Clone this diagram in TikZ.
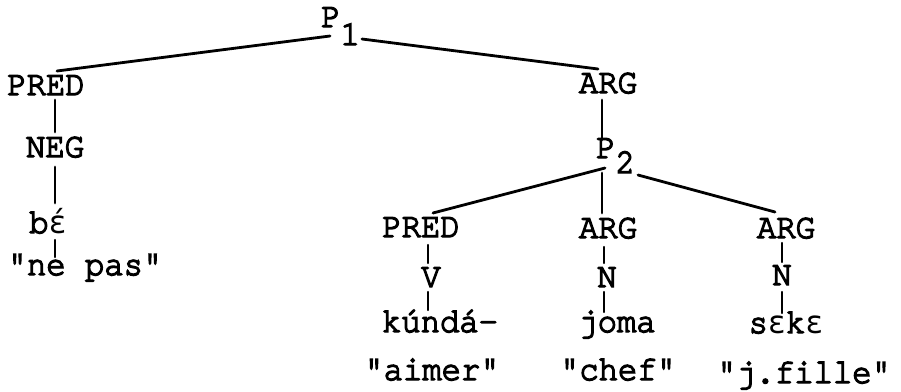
\documentclass[tikz,border=0pt]{standalone}
\usepackage{fontspec}
\newfontfamily\tw[FakeBold=4,FakeStretch=0.92,Ligatures=NoCommon]{TeX Gyre Cursor}
\newfontfamily\epsfont[Scale=0.9,FakeStretch=0.95]{DejaVu Sans Mono}
\newcommand{\eps}[1]{{\epsfont #1}}
\begin{document}
\begin{tikzpicture}[x=1bp,y=-1bp,
  lbl/.style={font=\tw\fontsize{35bp}{38bp}\selectfont, inner sep=0pt, anchor=base},
  lblw/.style={lbl, anchor=base west},
  br/.style={line width=2.8bp, line cap=round},
  sbr/.style={line width=2.3bp, line cap=round}]
\useasboundingbox (0,0) rectangle (901,391);
% nodes
\node[lblw] (p1) at (321,27) {P\raisebox{-18bp}{1}};
\node[lbl] (pred1) at (46,95) {PRED};
\node[lbl] (neg) at (55,157) {NEG};
\node[lbl] (be) at (48,233) {b\eps{ɛ́}};
\node[lbl] (nepas) at (85,275) {"ne pas"};
\node[lbl] (arg1) at (608,93) {ARG};
\node[lblw] (p2) at (596,158) {P\raisebox{-15bp}{2}};
\node[lbl] (pred2) at (421,237) {PRED};
\node[lbl] (arg2) at (608,238) {ARG};
\node[lbl] (arg3) at (786,238) {ARG};
\node[lbl] (v) at (431,287) {V};
\node[lbl] (n2) at (607,287) {N};
\node[lbl] (n3) at (782,285) {N};
\node[lbl] (kunda) at (440,332) {kúndá-};
\node[lbl] (joma) at (617,332) {joma};
\node[lbl] (seke) at (786,333) {s\eps{ɛ}k\eps{ɛ}};
\node[lbl] (aimer) at (432,380) {"aimer"};
\node[lbl] (chef) at (618,380) {"chef"};
\node[lbl] (jfille) at (804,383) {"j.fille"};
% connectors
\draw[br] ([shift={(9,9)}]p1.base west) -- ([shift={(11,-24)}]pred1.base);
\draw[br] ([shift={(41,12)}]p1.base west) -- ([shift={(-10,-24)}]arg1.base);
\draw[br] ([shift={(9,5)}]pred1.base) -- ([shift={(0,-25)}]neg.base);
\draw[br] ([shift={(0,10)}]neg.base) -- ([shift={(7,-30)}]be.base);
\draw[sbr] ([shift={(7,7)}]be.base) -- ([shift={(-30,-18)}]nepas.base);
\draw[br] ([shift={(-6,7)}]arg1.base) -- ([shift={(6,-18)}]p2.base west);
\draw[br] ([shift={(9,10)}]p2.base west) -- ([shift={(12,-24)}]pred2.base);
\draw[br] ([shift={(6,15)}]p2.base west) -- ([shift={(-6,-25)}]arg2.base);
\draw[br] ([shift={(42,17)}]p2.base west) -- ([shift={(-11,-26)}]arg3.base);
\draw[sbr] ([shift={(7,8)}]pred2.base) -- ([shift={(-3,-24)}]v.base);
\draw[sbr] ([shift={(-3,5)}]v.base) -- ([shift={(-12,-22)}]kunda.base);
\draw[sbr] ([shift={(-4,9)}]arg2.base) -- ([shift={(-3,-24)}]n2.base);
\draw[sbr] ([shift={(-3,5)}]n2.base) -- ([shift={(-13,-20)}]joma.base);
\draw[sbr] ([shift={(-4,5)}]arg3.base) -- ([shift={(0,-23)}]n3.base);
\draw[sbr] ([shift={(0,7)}]n3.base) -- ([shift={(-4,-20)}]seke.base);
\end{tikzpicture}
\end{document}
